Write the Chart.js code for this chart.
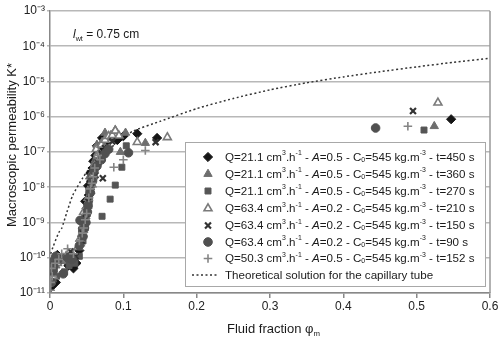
<!DOCTYPE html>
<html>
<head>
<meta charset="utf-8">
<script src="https://cdn.jsdelivr.net/npm/chart.js@4.4.1/dist/chart.umd.min.js"></script>
<style>
html,body{margin:0;padding:0;background:#fff;}
#wrap{position:relative;width:502px;height:338px;}
</style>
</head>
<body>
<div id="wrap"><canvas id="c" width="502" height="338"></canvas></div>
<script>
// ---- data ----
const xTickValues = [0, 0.1, 0.2, 0.3, 0.4, 0.5, 0.6];
const yTickExponents = [-11, -10, -9, -8, -7, -6, -5, -4, -3];

const flowRates = ['21.1', '21.1', '21.1', '63.4', '63.4', '63.4', '50.3'];
const aValues   = ['0.5', '0.5', '0.5', '0.2', '0.2', '0.2', '0.5'];
const times     = ['450', '360', '270', '210', '150', '90', '152'];
const theoryLabel = 'Theoretical solution for the capillary tube';

const phiDiamond = [0.001,0.002,0.004,0.006,0.008,0.010,0.025,0.030,0.032,0.036,0.040,0.044,0.045,0.047,0.048,0.050,0.052,0.053,0.055,0.056,0.058,0.059,0.062,0.064,0.068,0.071,0.075,0.085,0.092,0.100,0.119,0.146,0.547];
const kDiamond   = [6e-11,1.5e-11,4e-11,8e-11,2e-11,1.2e-10,6e-11,8e-11,5e-11,7e-11,1.6e-10,4e-10,1.2e-9,9e-10,4e-9,2.5e-9,1.1e-8,6e-9,2.5e-8,1.5e-8,3.5e-8,5.5e-8,8e-8,1.5e-7,1.2e-7,2.5e-7,1.8e-7,2.5e-7,2.2e-7,2.8e-7,3.3e-7,2.5e-7,8.5e-7];

const phiTriangle = [0.003,0.005,0.008,0.015,0.020,0.030,0.042,0.044,0.046,0.049,0.050,0.052,0.054,0.055,0.058,0.060,0.062,0.064,0.066,0.071,0.075,0.078,0.083,0.089,0.096,0.103,0.130,0.524];
const kTriangle   = [2.5e-11,1e-10,6e-11,1e-10,8e-11,1.3e-10,2.5e-10,8e-10,6e-10,1.5e-9,3e-9,4e-9,2e-8,1e-8,2.5e-8,4.5e-8,6e-8,1.6e-7,1e-7,1.9e-7,3.5e-7,2.5e-7,3e-7,4.2e-7,1e-7,3.5e-7,1.8e-7,5.4e-7];

const phiSquare = [0.002,0.003,0.006,0.009,0.012,0.020,0.026,0.034,0.040,0.043,0.045,0.047,0.048,0.051,0.053,0.054,0.056,0.057,0.060,0.063,0.071,0.082,0.089,0.098,0.104,0.510];
const kSquare   = [2e-11,8e-11,5e-11,3e-11,8e-11,4e-11,6e-11,7e-11,1.1e-10,6e-10,3e-10,1.3e-9,7e-10,1.8e-9,8e-9,4.5e-9,2e-8,1.2e-8,2.5e-8,5e-8,1.5e-9,4.6e-9,1.15e-8,3.7e-8,1.5e-7,4.2e-7];

const phiOpenTri = [0.004,0.010,0.014,0.022,0.038,0.041,0.044,0.046,0.048,0.051,0.052,0.055,0.057,0.058,0.061,0.063,0.065,0.070,0.075,0.080,0.085,0.089,0.094,0.119,0.160,0.529];
const kOpenTri   = [3e-11,7e-11,9e-11,1.1e-10,2e-10,3.5e-10,5e-10,2e-9,1.2e-9,3e-9,5e-9,8e-9,1.2e-8,2e-8,4e-8,1.2e-7,8e-8,1.6e-7,2.2e-7,2.8e-7,3e-7,4e-7,2.9e-7,1.9e-7,2.6e-7,2.5e-6];

const phiCross = [0.003,0.009,0.015,0.028,0.035,0.043,0.045,0.047,0.049,0.050,0.052,0.054,0.056,0.057,0.060,0.062,0.066,0.070,0.072,0.075,0.085,0.144,0.495];
const kCross   = [3.5e-11,9e-11,1.1e-10,1.5e-10,1.1e-10,3e-10,5e-10,8e-10,1.3e-9,2e-9,4e-9,6e-9,1e-8,1.5e-8,3e-8,2.2e-8,5e-8,9e-8,1.8e-8,1.3e-7,2e-7,1.9e-7,1.45e-6];

const phiCircle = [0.002,0.003,0.005,0.008,0.011,0.018,0.024,0.030,0.040,0.041,0.045,0.047,0.049,0.051,0.052,0.055,0.058,0.060,0.064,0.070,0.075,0.080,0.107,0.444];
const kCircle   = [2e-11,4e-11,6e-11,1.1e-10,9e-11,3.5e-11,1e-10,9e-11,2.2e-10,1.15e-9,4e-10,7e-10,1e-9,2e-9,3e-9,7e-9,1.5e-8,3e-8,4e-8,6e-8,9e-8,1.2e-7,9.5e-8,4.8e-7];

const phiPlus = [0.001,0.001,0.002,0.003,0.007,0.012,0.016,0.024,0.032,0.040,0.044,0.046,0.048,0.050,0.053,0.055,0.057,0.059,0.061,0.065,0.068,0.087,0.100,0.130,0.488];
const kPlus   = [1.2e-11,2e-11,5e-11,3e-11,7e-11,9e-11,1.3e-10,1.8e-10,1.3e-10,3e-10,5e-10,7e-10,1.2e-9,1.8e-9,5e-9,9e-9,1.3e-8,2e-8,3.5e-8,8e-8,6e-8,3.7e-8,6e-8,1.1e-7,5.4e-7];

const phiTheory = [0.001,0.004,0.012,0.016,0.023,0.031,0.045,0.06,0.08,0.1,0.113,0.15,0.2,0.25,0.3,0.35,0.4,0.45,0.5,0.55,0.6];
const kTheory   = [1.3e-10,2.0e-10,5.2e-10,6.9e-10,1.95e-9,5.9e-9,1.9e-8,5.0e-8,1.2e-7,2.4e-7,3.9e-7,7.4e-7,1.7e-6,3.3e-6,5.8e-6,9.2e-6,1.35e-5,1.9e-5,2.6e-5,3.5e-5,4.6e-5];

// ---- build ----
function pts(xs, ys){ return xs.map((x,i)=>({x:x, y:ys[i]})); }
const FONT = '"Liberation Sans", Arial, sans-serif';

const seriesStyles = [
  {style:'rectRot',  r:4.6, bg:'#151515', bc:'#151515', bw:1},
  {style:'triangle', r:4.8, bg:'#6e6e6e', bc:'#6e6e6e', bw:1},
  {style:'rect',     r:4.2, bg:'#555555', bc:'#555555', bw:1},
  {style:'triangle', r:4.6, bg:'#ffffff', bc:'#7a7a7a', bw:1.6},
  {style:'crossRot', r:4.2, bg:'#333333', bc:'#333333', bw:2.2},
  {style:'circle',   r:4.3, bg:'#505050', bc:'#505050', bw:1},
  {style:'cross',    r:4.3, bg:'#858585', bc:'#858585', bw:1.6}
];
const seriesData = [
  pts(phiDiamond,kDiamond), pts(phiTriangle,kTriangle), pts(phiSquare,kSquare),
  pts(phiOpenTri,kOpenTri), pts(phiCross,kCross), pts(phiCircle,kCircle), pts(phiPlus,kPlus)
];

const datasets = [{
  label: theoryLabel,
  data: pts(phiTheory, kTheory),
  showLine: true, borderColor:'#333', borderWidth:1.5, borderDash:[2,2.5],
  pointRadius:0, fill:false, tension:0.2, order: 10
}];
seriesStyles.forEach((s,i)=>{
  datasets.push({
    label: 'Q='+flowRates[i]+' t='+times[i],
    data: seriesData[i],
    pointStyle: s.style, pointRadius: s.r, pointHoverRadius: s.r,
    backgroundColor: s.bg, borderColor: s.bc, pointBorderWidth: s.bw, borderWidth: s.bw,
    showLine:false, order: 7 - i
  });
});

function sup(n){
  const m = {'-':'\u207B','0':'\u2070','1':'\u00B9','2':'\u00B2','3':'\u00B3','4':'\u2074','5':'\u2075','6':'\u2076','7':'\u2077','8':'\u2078','9':'\u2079'};
  return String(n).split('').map(c=>m[c]).join('');
}

function drawRich(ctx, x, y, segs, size){
  let cx = x;
  segs.forEach(sg=>{
    let f = size, dy = 0, st = '';
    if (sg.s === 'sup'){ f = size*0.6; dy = -size*0.38; }
    if (sg.s === 'sub'){ f = size*0.6; dy = size*0.22; }
    if (sg.s === 'i'){ st = 'italic '; }
    ctx.font = st + f + 'px ' + FONT;
    ctx.fillText(sg.t, cx, y + dy);
    cx += ctx.measureText(sg.t).width;
  });
  return cx - x;
}

const decor = {
  id:'decor',
  afterDatasetsDraw(chart){
    const ctx = chart.ctx, ca = chart.chartArea;
    ctx.save();
    // right border of plot area
    ctx.strokeStyle = '#999'; ctx.lineWidth = 1.5;
    ctx.beginPath(); ctx.moveTo(ca.right, ca.top); ctx.lineTo(ca.right, ca.bottom); ctx.stroke();

    // legend box
    const bx = 185, by = 142, bw = 300, bh = 144;
    ctx.fillStyle = '#fff'; ctx.fillRect(bx, by, bw, bh);
    ctx.strokeStyle = '#a8a8a8'; ctx.lineWidth = 1; ctx.strokeRect(bx+0.5, by+0.5, bw, bh);
    const rowsY = [157, 174, 191, 208.5, 225.5, 242, 258.5];
    ctx.textBaseline = 'middle'; ctx.fillStyle = '#222';
    seriesStyles.forEach((s,i)=>{
      ctx.fillStyle = s.bg; ctx.strokeStyle = s.bc; ctx.lineWidth = s.bw;
      Chart.helpers.drawPoint(ctx, {pointStyle:s.style, radius:s.r, borderWidth:s.bw, rotation:0}, 208, rowsY[i]);
      ctx.fillStyle = '#1a1a1a';
      drawRich(ctx, 225, rowsY[i]+0.5, [
        {t:'Q='+flowRates[i]+' cm'}, {t:'3', s:'sup'}, {t:'.h'}, {t:'-1', s:'sup'},
        {t:' - '}, {t:'A', s:'i'}, {t:'='+aValues[i]+' - C'}, {t:'0', s:'sub'},
        {t:'=545 kg.m'}, {t:'-3', s:'sup'}, {t:' - t='+times[i]+' s'}
      ], 11.6);
    });
    // theory row
    ctx.strokeStyle = '#333'; ctx.lineWidth = 1.5; ctx.setLineDash([2,2.5]);
    ctx.beginPath(); ctx.moveTo(192, 275); ctx.lineTo(219, 275); ctx.stroke();
    ctx.setLineDash([]);
    ctx.fillStyle = '#1a1a1a'; ctx.font = '11.6px ' + FONT;
    ctx.fillText(theoryLabel, 225, 275.5);

    // annotation l_wt = 0.75 cm
    ctx.textBaseline = 'alphabetic';
    drawRich(ctx, 73, 38, [{t:'l', s:'i'}, {t:'wt', s:'sub'}, {t:' = 0.75 cm'}], 12);

    // axis titles
    ctx.fillStyle = '#1a1a1a';
    ctx.save();
    ctx.translate(16, 145); ctx.rotate(-Math.PI/2);
    ctx.font = '13px ' + FONT; ctx.textAlign = 'center'; ctx.textBaseline = 'alphabetic';
    ctx.fillText('Macroscopic permeability K*', 0, 0);
    ctx.restore();
    ctx.textAlign = 'left';
    drawRich(ctx, 227, 333, [{t:'Fluid fraction \u03C6'}, {t:'m', s:'sub'}], 13);
    ctx.restore();
  }
};

new Chart(document.getElementById('c'), {
  type: 'scatter',
  data: { datasets },
  plugins: [decor],
  options: {
    responsive: false, animation: false,
    layout: { padding: { left: 0, right: 12, top: 11, bottom: 0 } },
    plugins: { legend: { display: false }, tooltip: { enabled: false } },
    scales: {
      x: {
        type: 'linear', min: 0, max: 0.6,
        afterBuildTicks(scale){ scale.ticks = xTickValues.map(v=>({value:v})); },
        afterFit(scale){ scale.height = 45; },
        ticks: { color:'#222', font:{family:FONT, size:12}, padding: 1,
                 callback: v => String(v) },
        grid: { display:true, drawOnChartArea:false, drawTicks:true, tickLength:5, color:'#888', lineWidth:1.5 },
        border: { display:true, color:'#888', width:1.5 }
      },
      y: {
        type: 'logarithmic', min: 1e-11, max: 1e-3,
        afterBuildTicks(scale){ scale.ticks = yTickExponents.map(e=>({value: Math.pow(10, e)})); },
        afterFit(scale){ scale.width = 50; },
        ticks: { color:'#222', font:{family:FONT, size:12}, padding: 2,
                 callback: v => '10' + sup(Math.round(Math.log10(v))) },
        grid: { color:'#b8b8b8', lineWidth:1.6, tickLength:3, drawTicks:true },
        border: { display:true, color:'#888', width:1.5 }
      }
    }
  }
});
</script>
</body>
</html>
